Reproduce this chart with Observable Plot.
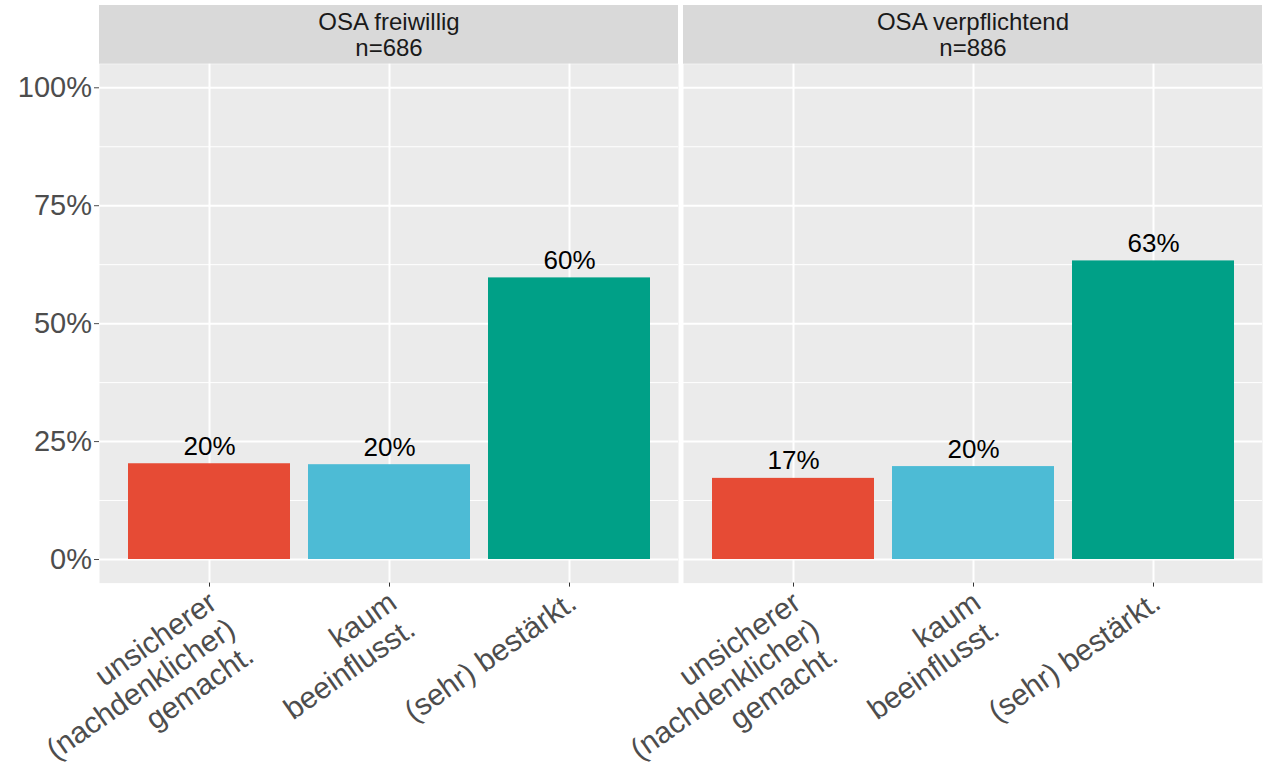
<!DOCTYPE html>
<html>
<head>
<meta charset="utf-8">
<script src="https://cdn.jsdelivr.net/npm/d3@7"></script>
<script src="https://cdn.jsdelivr.net/npm/@observablehq/plot@0.6"></script>
<style>
  html, body { margin: 0; padding: 0; background: #ffffff; }
  #chart svg { display: block; }
</style>
</head>
<body>
<div id="chart"></div>
<script>
// ---- data ----
const panels = ["OSA freiwillig", "OSA verpflichtend"];
const panelN = [686, 886];
const categories = [
  "unsicherer\n(nachdenklicher)\ngemacht.",
  "kaum\nbeeinflusst.",
  "(sehr) bestärkt."
];
const valuesFreiwillig = [20.3, 20.1, 59.7];
const valuesVerpflichtend = [17.2, 19.7, 63.3];
const barColors = ["#E64B35", "#4DBBD5", "#00A087"];
const yTicks = [0, 25, 50, 75, 100];
const yMinorTicks = [12.5, 37.5, 62.5, 87.5];
const yDomain = [-5, 105];

// ---- tables built from the arrays ----
const seriesByPanel = [valuesFreiwillig, valuesVerpflichtend];
const rows = panels.flatMap((p, i) =>
  categories.map((c, j) => ({panel: p, category: c, value: seriesByPanel[i][j]}))
);
const facetRows = panels.map((p, i) => ({panel: p, n: panelN[i]}));

// ---- layout (pixels) ----
const W = 1263, H = 770;
const marginTop = 63.7, marginBottom = 187.4, marginLeft = 99, marginRight = 1;
const stripHeight = 58.7;
const font = "'Liberation Sans', Arial, Helvetica, sans-serif";

const chart = Plot.plot({
  width: W,
  height: H,
  marginTop, marginBottom, marginLeft, marginRight,
  style: {fontFamily: font, background: "#ffffff", overflow: "visible"},
  fx: {domain: panels, axis: null, paddingInner: 0.0086, paddingOuter: 0},
  x: {domain: categories, paddingInner: 0.1, paddingOuter: 0.15, axis: null},
  y: {domain: yDomain, axis: null},
  color: {domain: categories, range: barColors},
  marks: [
    // panel background
    Plot.frame({fill: "#EBEBEB"}),
    // strip background
    Plot.rect(facetRows, {fx: "panel", y1: () => yDomain[1], y2: () => yDomain[1], insetTop: -stripHeight, fill: "#D9D9D9"}),
    // grid
    Plot.ruleY(yMinorTicks, {stroke: "#ffffff", strokeWidth: 1}),
    Plot.ruleY(yTicks, {stroke: "#ffffff", strokeWidth: 2}),
    Plot.ruleX(categories, {x: d => d, stroke: "#ffffff", strokeWidth: 2}),
    // bars
    Plot.barY(rows, {fx: "panel", x: "category", y: "value", fill: "category"}),
    // value labels
    Plot.text(rows, {
      fx: "panel", x: "category", y: "value",
      text: d => Math.round(d.value) + "%",
      dy: -9, lineAnchor: "bottom", fontSize: 26, fill: "#000000"
    }),
    // strip labels
    Plot.text(facetRows, {
      fx: "panel",
      text: d => `${d.panel}\nn=${d.n}`,
      frameAnchor: "top", dy: -8, lineAnchor: "bottom",
      fontSize: 24, lineHeight: 1.08, fill: "#1A1A1A"
    }),
    // y axis
    Plot.axisY({
      ticks: yTicks, tickFormat: d => d + "%", tickSize: 5, tickPadding: 2.5,
      fontSize: 29, color: "#4D4D4D", label: null
    }),
    // x ticks
    Plot.axisX({tickSize: 4, tickFormat: () => "", stroke: "#333333", label: null}),
    // x labels (rotated, multi-line)
    Plot.text(rows, {
      fx: "panel", x: "category", text: "category",
      frameAnchor: "bottom", rotate: -35, textAnchor: "end", lineAnchor: "top",
      dx: -4, dy: 5, fontSize: 30, lineHeight: 1.08, fill: "#4D4D4D"
    })
  ]
});

document.getElementById("chart").appendChild(chart);
</script>
</body>
</html>
